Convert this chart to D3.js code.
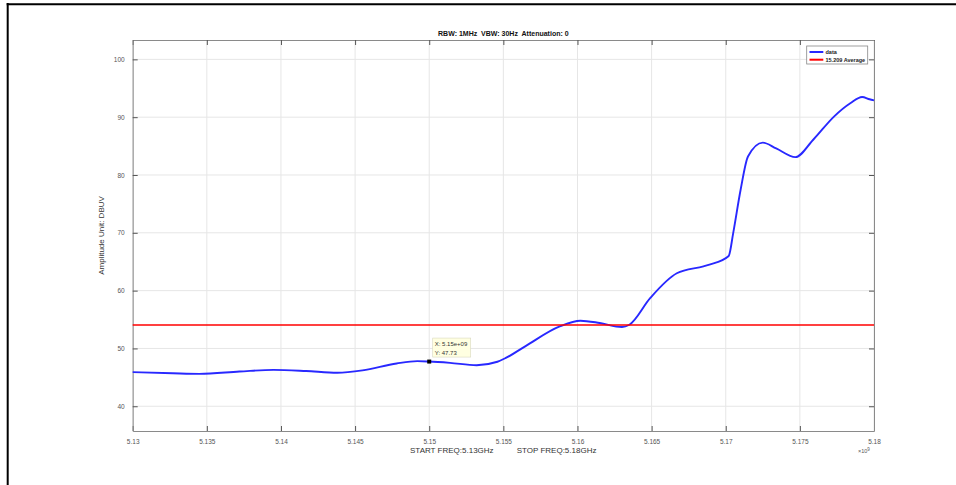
<!DOCTYPE html>
<html><head><meta charset="utf-8">
<script src="https://cdn.jsdelivr.net/npm/d3@7"></script>
<style>body{margin:0;background:#fff;}svg{display:block;font-family:"Liberation Sans",Arial,sans-serif;}</style>
</head><body>
<svg id="c" width="956" height="485"></svg>
<script>
const freqGHz = [5.1300,5.1327,5.1345,5.1372,5.1395,5.1417,5.1438,5.1455,5.1478,5.1492,5.1500,5.1514,5.1532,5.1546,5.1552,5.1565,5.1588,5.1602,5.1615,5.1630,5.1635,5.1649,5.1667,5.1685,5.1689,5.1702,5.1705,5.1710,5.1715,5.1725,5.1734,5.1747,5.1759,5.1773,5.1784,5.1792,5.1797,5.1800];
const amplitude = [45.9,45.7,45.6,46.0,46.3,46.1,45.8,46.2,47.4,47.8,47.73,47.5,47.1,47.7,48.4,50.4,53.8,54.8,54.4,53.7,54.1,58.7,63.0,64.2,64.5,66.0,69.9,77.4,83.2,85.6,84.6,83.1,86.1,90.1,92.4,93.5,93.1,92.9];
const limitValue = 54.05;
const xTicks = [5.13,5.135,5.14,5.145,5.15,5.155,5.16,5.165,5.17,5.175,5.18];
const xTickLabels = ["5.13","5.135","5.14","5.145","5.15","5.155","5.16","5.165","5.17","5.175","5.18"];
const yTicks = [40,50,60,70,80,90,100];
const seriesNames = ["data","15.209 Average"];
const tipX = 5.15, tipY = 47.73;

const svg = d3.select("#c");
// frame
svg.append("line").attr("x1",7.7).attr("x2",7.7).attr("y1",3).attr("y2",485).attr("stroke","#000").attr("stroke-width",2);
svg.append("line").attr("x1",6.7).attr("x2",956).attr("y1",4.3).attr("y2",4.3).attr("stroke","#000").attr("stroke-width",2);

const L=132.7,R=874,T=40,B=431;
const x = d3.scaleLinear().domain([5.13,5.18]).range([L,R]);
const y = d3.scaleLinear().domain([35.72,103.35]).range([B,T]);

const g = svg.append("g");
// grid
g.selectAll(".gx").data(xTicks).join("line").attr("x1",d=>x(d)).attr("x2",d=>x(d)).attr("y1",T).attr("y2",B).attr("stroke","#e6e6e6").attr("stroke-width",1);
g.selectAll(".gy").data(yTicks).join("line").attr("x1",L).attr("x2",R).attr("y1",d=>y(d)).attr("y2",d=>y(d)).attr("stroke","#e6e6e6").attr("stroke-width",1);

// axes
const axCol="#8a8a8a";
const ax = g.append("g").attr("transform",`translate(0,${B})`).call(d3.axisBottom(x).tickValues(xTicks).tickFormat((d,i)=>xTickLabels[i]).tickSizeInner(-5).tickSizeOuter(0).tickPadding(8));
const axT = g.append("g").attr("transform",`translate(0,${T})`).call(d3.axisTop(x).tickValues(xTicks).tickFormat("").tickSizeInner(-5).tickSizeOuter(0));
const ay = g.append("g").attr("transform",`translate(${L},0)`).call(d3.axisLeft(y).tickValues(yTicks).tickSizeInner(-5).tickSizeOuter(0).tickPadding(8));
const ayR = g.append("g").attr("transform",`translate(${R},0)`).call(d3.axisRight(y).tickValues(yTicks).tickFormat("").tickSizeInner(-5).tickSizeOuter(0));
[ax,axT,ay,ayR].forEach(a=>{a.select(".domain").attr("stroke",axCol);a.selectAll(".tick line").attr("stroke","#555");a.selectAll("text").attr("fill","#555").style("font-size","6.5px").style("font-family","Liberation Sans, Arial, sans-serif");});

// lines
const line = d3.line().x((d,i)=>x(freqGHz[i])).y(d=>y(d)).curve(d3.curveMonotoneX);
g.append("path").datum(amplitude).attr("d",line).attr("fill","none").attr("stroke","#2828ff").attr("stroke-width",1.9);
g.append("line").attr("x1",L).attr("x2",R).attr("y1",y(limitValue)).attr("y2",y(limitValue)).attr("stroke","#ff0000").attr("stroke-width",1.6);

// datatip
g.append("rect").attr("x",x(tipX)-2).attr("y",y(tipY)-2).attr("width",4).attr("height",4).attr("fill","#000");
const tip = g.append("g");
tip.append("rect").attr("x",x(tipX)+3.5).attr("y",y(tipY)-23.5).attr("width",38).attr("height",19).attr("fill","#ffffe1").attr("stroke","#d8d8c0").attr("stroke-width",0.6);
tip.append("text").attr("x",x(tipX)+5.5).attr("y",y(tipY)-15.5).text("X: 5.15e+09").attr("fill","#333").style("font-size","6px");
tip.append("text").attr("x",x(tipX)+5.5).attr("y",y(tipY)-7).text("Y: "+tipY).attr("fill","#333").style("font-size","6px");

// legend
const lg = g.append("g");
lg.append("rect").attr("x",806.7).attr("y",46).attr("width",61).attr("height",18).attr("fill","#fff").attr("stroke","#888").attr("stroke-width",0.8);
const lc=["#2828ff","#ff0000"];
seriesNames.forEach((n,i)=>{
  const yy = 52 + i*7.7;
  lg.append("line").attr("x1",809.5).attr("x2",823.3).attr("y1",yy).attr("y2",yy).attr("stroke",lc[i]).attr("stroke-width",2);
  lg.append("text").attr("x",825.5).attr("y",yy+2).text(n).attr("fill","#222").style("font-size","5.5px").style("font-weight","bold");
});

// titles
svg.append("text").attr("x",(L+R)/2).attr("y",36).attr("text-anchor","middle").text("RBW: 1MHz  VBW: 30Hz  Attenuation: 0").style("font-size","7px").style("font-weight","bold").attr("fill","#111").attr("xml:space","preserve").style("white-space","pre");
svg.append("text").attr("transform",`translate(104,${(T+B)/2}) rotate(-90)`).attr("text-anchor","middle").text("Amplitude Unit: DBUV").style("font-size","8px").attr("fill","#333");
svg.append("text").attr("x",410).attr("y",453).text("START FREQ:5.13GHz").style("font-size","8px").attr("fill","#333");
svg.append("text").attr("x",516.7).attr("y",453).text("STOP FREQ:5.18GHz").style("font-size","8px").attr("fill","#333");
const ex = svg.append("text").attr("x",858).attr("y",453).style("font-size","5.5px").attr("fill","#555");
ex.append("tspan").text("\u00d710");
ex.append("tspan").attr("dy",-2.5).style("font-size","4.5px").text("9");
</script>
</body></html>
